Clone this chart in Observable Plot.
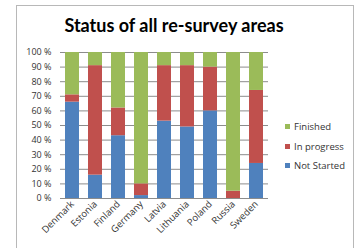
<!DOCTYPE html>
<html><head><meta charset="utf-8">
<script src="https://cdn.jsdelivr.net/npm/d3@7"></script>
<script src="https://cdn.jsdelivr.net/npm/@observablehq/plot@0.6"></script>
<style>
html,body{margin:0;padding:0;background:#fff;}
#wrap{position:relative;width:355px;height:248px;overflow:hidden;font-family:Lato,"Open Sans",sans-serif;}
#frame{position:absolute;left:16px;top:5px;width:338px;height:250px;border:1px solid #b8b8b8;box-sizing:border-box;}
#title{position:absolute;left:0;width:348px;top:14px;text-align:center;font-weight:bold;font-size:18px;color:#000;font-family:Lato,sans-serif;}
#legend{position:absolute;left:285px;top:117px;font-size:9.5px;color:#333;font-family:"Open Sans",sans-serif;}
#legend div{height:19.5px;display:flex;align-items:center;}
#legend span.sw{display:inline-block;width:5px;height:5px;margin-right:4px;}
#chart{position:absolute;left:0;top:0;}
</style></head>
<body><div id="wrap"><div id="frame"></div><div id="chart"></div><div id="title">Status of all re-survey areas</div><div id="legend"></div></div>
<script>
const countries = ["Denmark","Estonia","Finland","Germany","Latvia","Lithuania","Poland","Russia","Sweden"];
const series = ["Not Started","In progress","Finished"];
const colors = ["#4F81BD","#C0504D","#9BBB59"];
const notStarted = [66,16,43,2,53,49,60,0,24];
const inProgress = [5,75,19,8,38,42,30,5,50];
const finished   = [29,9,38,90,9,9,10,95,26];
const yTicks = [0,10,20,30,40,50,60,70,80,90,100];

const values = [notStarted, inProgress, finished];
const data = [];
series.forEach((s, si) => countries.forEach((c, ci) => data.push({country: c, status: s, value: values[si][ci]})));

const chart = Plot.plot({
  width: 355, height: 248,
  marginLeft: 60, marginRight: 87, marginTop: 52, marginBottom: 50,
  style: {background: "transparent", fontFamily: "'Open Sans',sans-serif", fontSize: "8px", color: "#333"},
  x: {domain: countries, paddingInner: 0.37, paddingOuter: 0.18, label: null},
  y: {domain: [0, 100], label: null},
  color: {domain: series, range: colors},
  marks: [
    Plot.gridY(yTicks, {stroke: "#8c8c8c", strokeOpacity: 1, strokeWidth: 1}),
    Plot.barY(data, {x: "country", y: "value", fill: "status", order: series}),
    Plot.ruleX([0], {frameAnchor: "left", stroke: "#8c8c8c"}),
    Plot.ruleY([0], {stroke: "#8c8c8c"}),
    Plot.axisY({ticks: yTicks, tickFormat: d => d + " %", tickSize: 0, tickPadding: 9, fontSize: 9, label: null}),
    Plot.axisX({tickRotate: -45, tickSize: 0, tickPadding: 4, fontSize: 9.5, label: null})
  ]
});
document.getElementById("chart").appendChild(chart);

const legend = document.getElementById("legend");
[2,1,0].forEach(i => {
  const d = document.createElement("div");
  d.innerHTML = `<span class="sw" style="background:${colors[i]}"></span>${series[i]}`;
  legend.appendChild(d);
});
</script></body></html>
